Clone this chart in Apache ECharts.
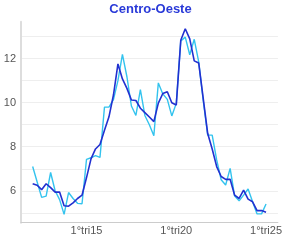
<!DOCTYPE html>
<html>
<head>
<meta charset="utf-8">
<script src="https://cdn.jsdelivr.net/npm/echarts@6/dist/echarts.min.js"></script>
<style>
    html, body { margin: 0; padding: 0; background: #fff; }
    #chart { width: 285px; height: 243px; }
</style>
</head>
<body>
<div id="chart"></div>
<script>
// trimestres: 1°tri12 ... 1°tri25
var firstYear = 2012;
var lastYear = 2025;
var quarterLabels = [];
var quarterPos = [];
for (var y = firstYear; y <= lastYear; y++) {
    for (var q = 1; q <= 4; q++) {
        if (y === lastYear && q > 1) break;
        quarterLabels.push(q + '°tri' + String(y).slice(2));
        quarterPos.push(y + (q - 1) / 4);
    }
}

// série original (linha clara)
var seriesRaw = [
    7.10, 6.40, 5.70, 5.76, 6.83, 6.00, 5.60, 4.93, 5.92, 5.65,
    5.43, 5.41, 7.43, 7.50, 7.60, 7.52, 9.80, 9.80, 10.14, 11.00,
    12.20, 11.18, 9.85, 9.42, 10.60, 9.42, 9.00, 8.50, 10.90, 10.40,
    10.15, 9.40, 9.97, 12.80, 12.98, 12.18, 12.88, 11.85, 10.10, 8.53,
    8.53, 7.40, 6.50, 6.26, 7.02, 5.76, 5.55, 5.80, 6.08, 5.50,
    4.95, 4.95, 5.40
];
// série suavizada (linha escura)
var seriesSmooth = [
    6.32, 6.25, 6.05, 6.32, 6.14, 5.94, 5.94, 5.32, 5.30, 5.45,
    5.65, 5.80, 6.60, 7.45, 7.90, 8.10, 8.75, 9.36, 10.35, 11.76,
    11.08, 10.65, 10.12, 10.10, 9.75, 9.55, 9.35, 9.14, 9.98, 10.42,
    10.50, 10.00, 9.90, 12.84, 13.36, 12.90, 11.90, 11.80, 10.20, 8.60,
    7.90, 7.10, 6.65, 6.52, 6.52, 5.80, 5.65, 6.03, 5.62, 5.50,
    5.10, 5.10, 5.03
];
var yLabels = [6, 8, 10, 12];
var xLabelYears = [2015, 2020, 2025];

function pairs(values) {
    return values.map(function (v, i) { return [quarterPos[i], v]; });
}

var chart = echarts.init(document.getElementById('chart'));
chart.setOption({
    animation: false,
    title: {
        text: 'Centro-Oeste',
        left: 150.5,
        textAlign: 'center',
        top: 3,
        padding: 0,
        textStyle: {
            color: '#2a3ad8',
            fontSize: 13,
            fontWeight: 'bold',
            fontFamily: 'Liberation Sans'
        }
    },
    grid: {
        left: 21,
        right: 5,
        top: 21.7,
        bottom: 20.3
    },
    xAxis: {
        type: 'value',
        min: 2011.35,
        max: 2025.66,
        splitNumber: 3,
        axisLine: { lineStyle: { color: '#cccccc', width: 1 } },
        axisTick: { show: false },
        splitLine: { show: false },
        axisLabel: {
            showMinLabel: false,
            showMaxLabel: false,
            margin: 3,
            color: '#555',
            fontSize: 11,
            fontFamily: 'Liberation Sans',
            formatter: function (v) {
                var r = Math.round(v);
                if (Math.abs(v - r) > 1e-6 || xLabelYears.indexOf(r) < 0) return '';
                return '1°tri' + String(r).slice(2);
            }
        }
    },
    yAxis: {
        type: 'value',
        min: 4.55,
        max: 13.68,
        splitNumber: 9,
        axisLine: { show: true, lineStyle: { color: '#dddddd', width: 2 } },
        axisTick: { show: false },
        splitLine: {
            show: true,
            showMinLine: false,
            showMaxLine: false,
            lineStyle: { color: '#eeeeee', width: 1 }
        },
        axisLabel: {
            showMinLabel: false,
            showMaxLabel: false,
            margin: 5,
            color: '#555',
            fontSize: 11,
            fontFamily: 'Liberation Sans',
            formatter: function (v) {
                var r = Math.round(v);
                if (Math.abs(v - r) > 1e-6 || yLabels.indexOf(r) < 0) return '';
                return String(r);
            }
        }
    },
    series: [
        {
            name: 'original',
            type: 'line',
            data: pairs(seriesRaw),
            symbol: 'none',
            lineStyle: { color: '#33c3ee', width: 1.4 }
        },
        {
            name: 'suavizada',
            type: 'line',
            data: pairs(seriesSmooth),
            symbol: 'none',
            lineStyle: { color: '#2230d0', width: 1.6 }
        }
    ]
});
</script>
</body>
</html>
